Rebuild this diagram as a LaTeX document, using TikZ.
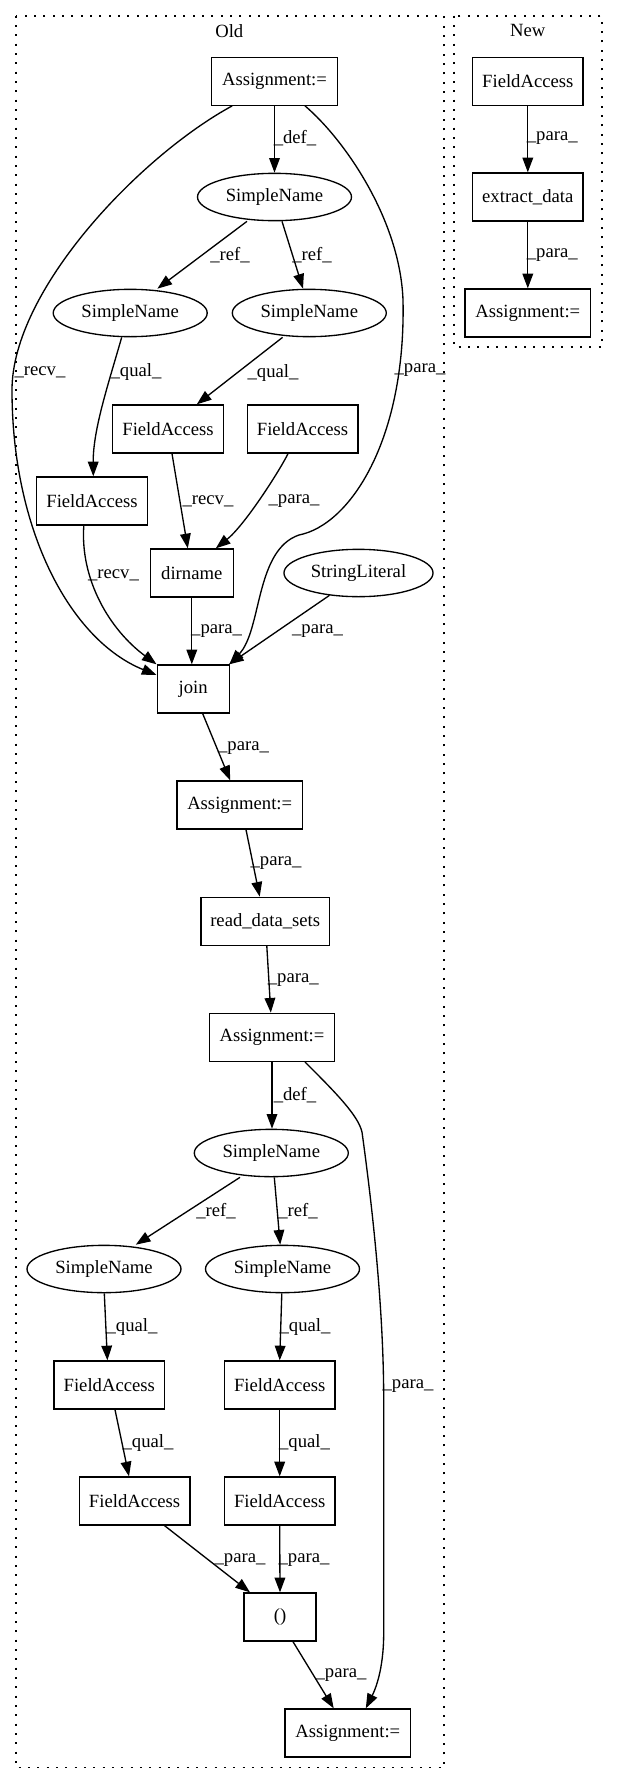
\documentclass[tikz,border=0pt]{standalone}
\usepackage{fontspec}
\setmainfont{Liberation Serif}
\usetikzlibrary{arrows.meta,calc,shapes.geometric}
\begin{document}
\begin{tikzpicture}[x=0.75pt,y=-0.75pt,
  every node/.style={font=\fontsize{14pt}{16pt}\selectfont},
  boxnode/.style={draw,line width=1pt,rectangle,minimum height=36pt,inner sep=0pt},
  ellnode/.style={draw,line width=1pt,ellipse,minimum height=35.5pt,inner sep=0pt,minimum width=115.5pt},
  conn/.style={line width=1pt,-{Triangle[length=11pt,width=8pt]}},
  elabel/.style={inner sep=0pt},
  cluster/.style={line width=1.3pt,dash pattern=on 1.5pt off 5.5pt}
]
\useasboundingbox (0,0) rectangle (617,1784);
\fill[white] (0,0) rectangle (617,1784);
% clusters
\draw[cluster] (15.7,15.7) rectangle (444,1767.5);
\draw[cluster] (454.3,15.7) rectangle (601.7,347.3);
\node[elabel] (oldlbl) at (229.3,30.7) {Old};
\node[elabel] (newlbl) at (527.7,30.7) {New};
% Old nodes
\node[boxnode,minimum width=94.2pt] (A1) at (274.5,81.2) {Assignment:=};
\node[ellnode] (SN1) at (274.5,197) {SimpleName};
\node[ellnode] (SN2) at (130.2,313) {SimpleName};
\node[ellnode] (SN3) at (309.3,313) {SimpleName};
\node[boxnode,minimum width=83pt] (FAa) at (168,429) {FieldAccess};
\node[boxnode,minimum width=83pt] (FAb) at (302.5,429) {FieldAccess};
\node[boxnode,minimum width=83pt] (FAc) at (92,501) {FieldAccess};
\node[boxnode,minimum width=62.2pt] (dirname) at (191.8,573) {dirname};
\node[ellnode,minimum width=111.8pt] (SL) at (358.5,573) {StringLiteral};
\node[boxnode,minimum width=54pt] (join) at (193.2,689) {join};
\node[boxnode,minimum width=94.2pt] (A2) at (239.7,805) {Assignment:=};
\node[boxnode,minimum width=96.3pt] (rds) at (265.2,921.3) {read\_data\_sets};
\node[boxnode,minimum width=94.2pt] (A3) at (272,1037.3) {Assignment:=};
\node[ellnode] (SN4) at (271.3,1153) {SimpleName};
\node[ellnode] (SN5) at (104,1269) {SimpleName};
\node[ellnode] (SN6) at (282.5,1269) {SimpleName};
\node[boxnode,minimum width=83pt] (FA1) at (109.3,1385) {FieldAccess};
\node[boxnode,minimum width=83pt] (FA2) at (279.7,1385) {FieldAccess};
\node[boxnode,minimum width=83pt] (FA3) at (134.6,1501) {FieldAccess};
\node[boxnode,minimum width=83pt] (FA4) at (279.7,1501) {FieldAccess};
\node[boxnode,minimum width=54pt] (par) at (280,1617) {()};
\node[boxnode,minimum width=94.2pt] (A4) at (347.8,1733) {Assignment:=};
% New nodes
\node[boxnode,minimum width=83pt] (NFA) at (527.8,81.2) {FieldAccess};
\node[boxnode,minimum width=83pt] (ext) at (527.8,197) {extract\_data};
\node[boxnode,minimum width=94.2pt] (NA) at (527.8,313) {Assignment:=};
% Old edges
\draw[conn] (A1.south) -- (SN1.north);
\draw[conn] ($(SN1.south)+(-27.5,0)$) -- ($(SN2.north)+(27.2,0)$);
\draw[conn] ($(SN1.south)+(7.5,0)$) -- ($(SN3.north)+(-6.3,0)$);
\draw[conn] ($(SN2.south)+(-8.5,0)$) .. controls (108,385) and (93,430) .. ($(FAc.north)+(1.3,0)$);
\draw[conn] ($(SN3.south)+(-26.7,0)$) -- ($(FAa.north)+(28.8,0)$);
\draw[conn] ($(FAa.south)+(4,0)$) -- ($(dirname.north)+(-4,0)$);
\draw[conn] ($(FAb.south)+(-14.5,0)$) .. controls (280,470) and (245,525) .. ($(dirname.north)+(24,0)$);
\draw[conn] ($(FAc.south)+(-8.2,0)$) .. controls (80,580) and (110,630) .. (join.north west);
\draw[conn] ($(A1.south)+(-42.3,0)$) .. controls (140,156) and (12,290) .. (12,390)
   .. controls (12,530) and (70,640) .. ($(join.west)+(0,-14)$);
\draw[conn] (dirname.south) -- (dirname.south |- join.north);
\draw[conn] ($(SL.south)+(-29,-2)$) -- ($(join.north east)+(-0.9,0)$);
\draw[conn] ($(A1.south)+(30.5,0)$) .. controls (345,140) and (400,220) .. (403,300)
   .. controls (406,440) and (350,525) .. (299,535)
   .. controls (255,550) and (262,630) .. ($(join.north east)+(-0.5,0)$);
\draw[conn] ($(join.south)+(9.5,0)$) -- ($(A2.north)+(-9.5,0)$);
\draw[conn] ($(A2.south)+(6.3,0)$) -- ($(rds.north)+(-5.5,0)$);
\draw[conn] ($(rds.south)+(1.6,0)$) -- ($(A3.north)+(-1.2,0)$);
\draw[conn] (A3.south) -- (A3.south |- SN4.north);
\draw[conn] ($(A3.south)+(33,0)$) .. controls (335,1092) and (358,1115) .. (362,1132)
   .. controls (370,1190) and (383.7,1300) .. (383.7,1400) -- (383.7,1633)
   .. controls (383.7,1670) and (375,1690) .. ($(A4.north)+(18,0)$);
\draw[conn] ($(SN4.south)+(-31.3,0)$) -- ($(SN5.north)+(31.8,0)$);
\draw[conn] ($(SN4.south)+(3,0)$) -- ($(SN6.north)+(-2.3,0)$);
\draw[conn] ($(SN5.south)+(0.3,0)$) -- ($(FA1.north)+(-1.9,0)$);
\draw[conn] ($(SN6.south)+(-0.7,0)$) -- (FA2.north);
\draw[conn] ($(FA1.south)+(5.7,0)$) -- ($(FA3.north)+(-5.6,0)$);
\draw[conn] (FA2.south) -- (FA4.north);
\draw[conn] ($(FA3.south)+(30,0)$) -- ($(par.north)+(-30,0)$);
\draw[conn] (FA4.south) -- (par.north);
\draw[conn] ($(par.south)+(13,0)$) -- ($(A4.north)+(-14.1,0)$);
% New edges
\draw[conn] (NFA.south) -- (ext.north);
\draw[conn] (ext.south) -- (NA.north);
% edge labels
\node[elabel] (l1) at (295,138) {\_def\_};
\node[elabel] (l2) at (40,372) {\_recv\_};
\node[elabel] (l3) at (420,370) {\_para\_};
\node[elabel] (l4) at (230,255) {\_ref\_};
\node[elabel] (l5) at (312,255) {\_ref\_};
\node[elabel] (l6) at (136,372) {\_qual\_};
\node[elabel] (l7) at (273,373) {\_qual\_};
\node[elabel] (l8) at (208,501) {\_recv\_};
\node[elabel] (l9) at (294,501) {\_para\_};
\node[elabel] (l10) at (113.5,575) {\_recv\_};
\node[elabel] (l11) at (216.6,631) {\_para\_};
\node[elabel] (l12) at (317.5,631) {\_para\_};
\node[elabel] (l13) at (243.5,748) {\_para\_};
\node[elabel] (l14) at (276,863) {\_para\_};
\node[elabel] (l15) at (293.3,980) {\_para\_};
\node[elabel] (l16) at (295,1095) {\_def\_};
\node[elabel] (l17) at (408,1386) {\_para\_};
\node[elabel] (l18) at (216,1211.5) {\_ref\_};
\node[elabel] (l19) at (298,1211.5) {\_ref\_};
\node[elabel] (l20) at (132,1327) {\_qual\_};
\node[elabel] (l21) at (305,1327) {\_qual\_};
\node[elabel] (l22) at (148,1443) {\_qual\_};
\node[elabel] (l23) at (304.5,1443) {\_qual\_};
\node[elabel] (l24) at (240,1560) {\_para\_};
\node[elabel] (l25) at (304,1560) {\_para\_};
\node[elabel] (l26) at (341,1675) {\_para\_};
\node[elabel] (l27) at (552.3,138) {\_para\_};
\node[elabel] (l28) at (552.3,255) {\_para\_};
\end{tikzpicture}
\end{document}
